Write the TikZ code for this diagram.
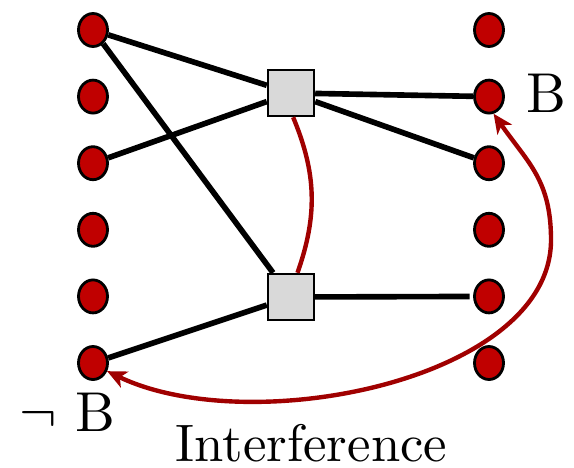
\documentclass[tikz,border=0pt]{standalone}
\usetikzlibrary{positioning,shapes.geometric,arrows.meta}

\definecolor{dotred}{RGB}{192,0,0}
\definecolor{linkred}{RGB}{160,0,0}
\definecolor{boxgray}{RGB}{217,217,217}

\begin{document}
\begin{tikzpicture}[
        x=0.02cm, y=-0.02cm,
        >={Stealth[length=11pt, width=10pt, inset=3pt]},
        state/.style={draw, ellipse, fill=dotred, line width=1.6pt, minimum width=0.58cm, minimum height=0.66cm, inner sep=0pt},
        factor/.style={draw, rectangle, fill=boxgray, line width=1.4pt, minimum size=0.92cm, inner sep=0pt},
        edge/.style={line width=3.2pt},
        interf/.style={linkred, line width=2.5pt},
        lbl/.style={inner sep=0pt, scale=3.2}
    ]
    \useasboundingbox (0,0) rectangle (574,467);

    % --- State columns ---
    \foreach \i in {1,...,6} {
        \node[state] (l\i) at (93, {30+66.6*(\i-1)}) {};
        \node[state] (r\i) at (489, {30+66.6*(\i-1)}) {};
    }

    % --- Factor boxes ---
    \node[factor] (u) at (291,93) {};
    \node[factor] (d) at (291,297) {};

    % --- Connections ---
    \draw[edge] (l1) -- (u);
    \draw[edge] (l3) -- (u);
    \draw[edge] (l1) -- (d);
    \draw[edge] (l6) -- (d);
    \draw[edge] (u) -- (r2);
    \draw[edge] (u) -- (r3);
    \draw[edge, shorten >=2pt] (d) -- (r5);

    % --- Interference links ---
    \coordinate (turn) at (551,240);
    \draw[interf] (u.-85) to[bend left=21] (d.75);
    \draw[interf, <->] (r2.-75) .. controls (528,163) and (551,180) .. (turn)
        .. controls (551,380) and (250,440) .. (l6.-30);

    % Labels
    \node[lbl] (b) at (546,93) {B};
    \node[lbl] (notb) at (67.5,412.5) {$\neg$ B};
    \node[lbl, scale=3/3.2] (itf) at (311.5,443) {Interference};

\end{tikzpicture}
\end{document}
